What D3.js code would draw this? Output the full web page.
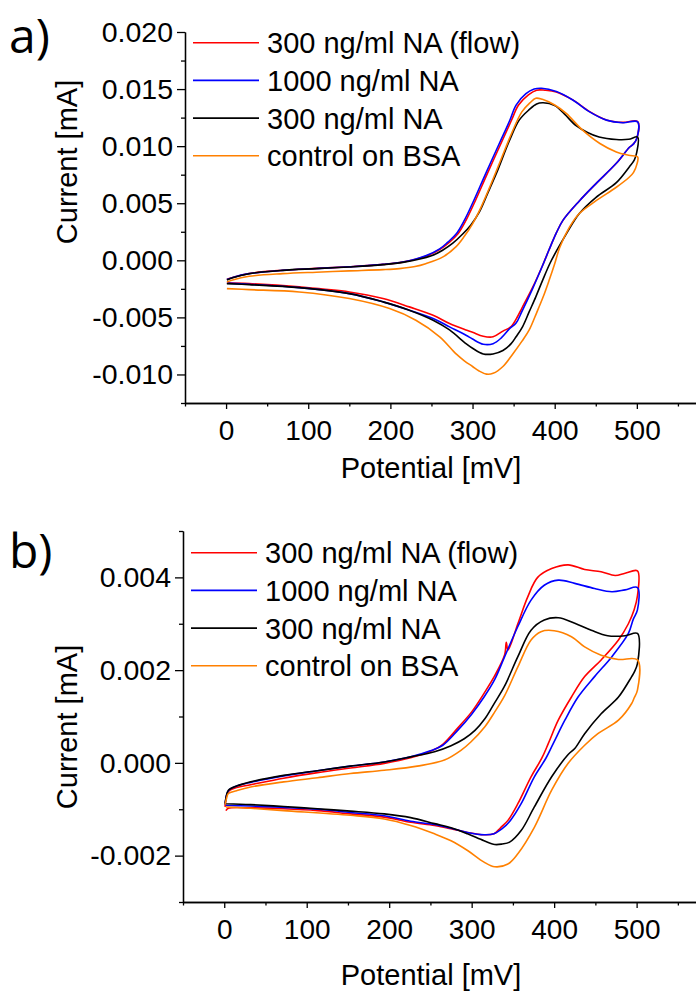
<!DOCTYPE html>
<html>
<head>
<meta charset="utf-8">
<script src="https://cdn.jsdelivr.net/npm/d3@7"></script>
<style>
  html, body { margin: 0; padding: 0; background: #fff; }
  svg { display: block; }
  text { font-family: "Liberation Sans", Arial, sans-serif; fill: #000; }
  .domain, .tick line { stroke: #000; stroke-width: 1.3px; }
  text.panel-tag { font-family: "Open Sans", sans-serif; }
</style>
</head>
<body>
<svg id="chart" width="696" height="992"></svg>
<script>
// legend / series
const seriesLabels = ['300 ng/ml NA (flow)', '1000 ng/ml NA', '300 ng/ml NA', 'control on BSA'];
const seriesColors = ['#ff0000', '#0000ff', '#000000', '#ff8000'];

// tick values
const xTicks      = [0, 100, 200, 300, 400, 500];
const xMinorTicks = [-50, 50, 150, 250, 350, 450, 550];
const yTicksA      = [-0.010, -0.005, 0.000, 0.005, 0.010, 0.015, 0.020];
const yMinorTicksA = [-0.0125, -0.0075, -0.0025, 0.0025, 0.0075, 0.0125, 0.0175];
const yTicksB      = [-0.002, 0.000, 0.002, 0.004];
const yMinorTicksB = [-0.003, -0.001, 0.001, 0.003, 0.005];

// panel a : [potential mV, current mA], forward scan then reverse scan
const aRed = [
  [1,-0.00165],[8,-0.0015],[28,-0.00115],[69,-0.00087],[110,-0.00071],[150,-0.00056],[191,-0.00036],
  [215,-0.00016],[243,0.00035],[260,0.00095],[272,0.0016],[282,0.0023],[292,0.0035],[302,0.005],
  [318,0.0076],[335,0.0103],[347,0.0122],[356,0.0136],[368,0.0145],[378,0.0149],[388,0.0149],
  [402,0.01475],[422,0.01405],[442,0.01305],[463,0.0123],[483,0.01208],[501,0.01215],
  [500,0.0107],[496,0.0102],[491,0.0099],[475,0.0085],[450,0.0067],[430,0.0052],[410,0.0035],[402,0.0024],
  [393,0.0009],[385,-0.0005],[373,-0.0024],[360,-0.0042],[355,-0.0049],[347,-0.0058],[337,-0.0062],
  [325,-0.0067],[313,-0.00665],[300,-0.0063],[292,-0.0061],[272,-0.00554],[252,-0.00481],
  [223,-0.00408],[191,-0.00335],[150,-0.00277],[89,-0.00233],[28,-0.00204],[1,-0.00198]
];
const aBlue = [
  [1,-0.00168],[8,-0.0015],[28,-0.00117],[69,-0.00088],[110,-0.00072],[150,-0.00057],[191,-0.00036],
  [215,-0.00015],[243,0.0004],[260,0.001],[270,0.0016],[280,0.0023],[290,0.0035],[300,0.005],
  [316,0.0076],[333,0.0103],[345,0.0122],[353,0.0136],[365,0.0146],[375,0.0150],[384,0.01507],
  [402,0.01478],[422,0.01404],[442,0.01302],[463,0.01228],[483,0.01205],[501,0.01213],
  [500,0.0107],[496,0.0102],[491,0.0099],[475,0.0085],[450,0.0067],[430,0.0052],[410,0.0035],[402,0.0024],
  [393,0.0009],[385,-0.0005],[373,-0.0025],[360,-0.0045],[353,-0.0055],[345,-0.0060],[335,-0.0068],
  [325,-0.0073],[313,-0.00735],[300,-0.0069],[292,-0.00656],[272,-0.00583],[252,-0.0051],
  [223,-0.00437],[191,-0.00364],[150,-0.00292],[89,-0.00239],[28,-0.0021],[1,-0.002]
];
const aBlack = [
  [1,-0.00172],[8,-0.00152],[28,-0.00117],[69,-0.00088],[110,-0.00073],[150,-0.00058],[191,-0.00038],
  [215,-0.00018],[250,0.0004],[264,0.0009],[276,0.0015],[288,0.0023],[298,0.0031],[308,0.0042],
  [318,0.0058],[329,0.0076],[345,0.0105],[357,0.0123],[369,0.0132],[378,0.0137],[386,0.0138],[400,0.01355],
  [412,0.0128],[426,0.0118],[440,0.0112],[454,0.0108],[475,0.01058],[490,0.0106],[501,0.0108],
  [500,0.0095],[497,0.0088],[491,0.0082],[475,0.0068],[450,0.0055],[430,0.0041],[414,0.0023],
  [402,0.0008],[394,-0.0003],[385,-0.0018],[377,-0.0032],[369,-0.0045],[361,-0.0058],[353,-0.0067],
  [347,-0.0073],[337,-0.0079],[325,-0.0082],[313,-0.0082],[300,-0.0077],[292,-0.0073],[272,-0.0061],
  [252,-0.00525],[223,-0.00437],[191,-0.00364],[150,-0.00292],[89,-0.00239],[28,-0.00213],[1,-0.00204]
];
const aOrange = [
  [1,-0.0019],[8,-0.00172],[28,-0.0014],[69,-0.00117],[110,-0.00104],[150,-0.00093],[191,-0.00082],
  [211,-0.00073],[230,-0.00055],[243,-0.0003],[264,0.0003],[280,0.0012],[290,0.0021],[300,0.0032],
  [310,0.0046],[322,0.0066],[335,0.0089],[348,0.0112],[360,0.0130],[370,0.0138],[377,0.0142],
  [385,0.0141],[400,0.0136],[414,0.01287],[434,0.0114],[455,0.01023],[475,0.00949],[490,0.0092],
  [501,0.00905],[500,0.0084],[496,0.0077],[491,0.0073],[475,0.0064],[450,0.0052],[430,0.0041],[418,0.0029],
  [406,0.0011],[400,-0.0003],[393,-0.0018],[386,-0.0032],[378,-0.0046],[369,-0.0061],[360,-0.0071],
  [349,-0.0082],[337,-0.0093],[325,-0.0099],[317,-0.00997],[308,-0.0097],[300,-0.0093],[290,-0.0088],
  [280,-0.0082],[260,-0.0067],[231,-0.00525],[199,-0.00423],[150,-0.00335],[89,-0.00277],
  [28,-0.00257],[1,-0.00248]
];

// panel b
const bRed = [
  [1,-0.00095],[3,-0.0007],[6,-0.0006],[15,-0.00053],[32,-0.00047],[72,-0.00033],[113,-0.00021],
  [153,-0.00011],[194,-0.00001],[226,0.00011],[250,0.00025],[265,0.0004],[283,0.00075],[300,0.0011],
  [315,0.0015],[328,0.00188],[340,0.00233],[342,0.0026],[344,0.00243],[356,0.003],[368,0.00358],
  [380,0.004],[397,0.00419],[417,0.00427],[437,0.00417],[457,0.00412],[474,0.00404],[486,0.00409],[501,0.00414],
  [501,0.0036],[497,0.0033],[490,0.003],[478,0.00265],[457,0.00222],[437,0.00186],[421,0.00142],[405,0.00092],
  [393,0.00042],[385,0.0001],[372,-0.0003],[356,-0.00088],[344,-0.00124],[335,-0.0014],[327,-0.00153],
  [315,-0.00155],[295,-0.0015],[275,-0.00142],[255,-0.00135],[226,-0.00128],[194,-0.00117],
  [153,-0.0011],[113,-0.00103],[72,-0.00099],[32,-0.00097],[5,-0.00098],[2,-0.00103]
];
const bBlue = [
  [1,-0.0009],[3,-0.00068],[6,-0.00058],[15,-0.0005],[32,-0.00042],[72,-0.00028],[113,-0.00017],
  [153,-0.00007],[194,0.00002],[226,0.00013],[250,0.00026],[265,0.00038],[283,0.0007],[300,0.00105],
  [315,0.00142],[328,0.0018],[340,0.00229],[356,0.00294],[372,0.00351],[388,0.00383],[405,0.00394],
  [425,0.00387],[449,0.00376],[470,0.00369],[486,0.00373],[501,0.00378],
  [501,0.0033],[496,0.0031],[490,0.00279],[470,0.00229],[449,0.00186],[429,0.00142],[413,0.00092],[399,0.00042],
  [390,0.0001],[376,-0.0003],[360,-0.00088],[347,-0.00124],[337,-0.00142],[327,-0.00153],
  [315,-0.00155],[295,-0.0015],[275,-0.00141],[255,-0.00133],[226,-0.00126],[194,-0.00114],
  [153,-0.00107],[113,-0.001],[72,-0.00096],[32,-0.00093],[2,-0.00092]
];
const bBlack = [
  [1,-0.00088],[3,-0.00068],[5,-0.00059],[15,-0.0005],[32,-0.00041],[72,-0.00027],[113,-0.00017],
  [153,-0.00007],[194,0.00002],[226,0.00013],[255,0.00024],[275,0.00037],[291,0.00052],[304,0.0007],
  [316,0.00095],[328,0.0013],[340,0.00166],[356,0.00229],[372,0.00286],[388,0.00308],[405,0.00313],
  [425,0.00301],[445,0.00286],[465,0.00274],[486,0.00274],[501,0.00279],
  [501,0.00214],[497,0.00195],[494,0.00186],[478,0.00142],[457,0.00106],[437,0.00063],[425,0.00031],[417,0.00018],
  [397,-0.0003],[376,-0.00095],[360,-0.00146],[346,-0.00171],[337,-0.00175],[328,-0.00176],
  [315,-0.00168],[295,-0.00153],[275,-0.0014],[255,-0.00131],[226,-0.00118],[194,-0.0011],
  [153,-0.00104],[113,-0.00099],[72,-0.00094],[32,-0.0009],[2,-0.00088]
];
const bOrange = [
  [1,-0.0009],[3,-0.00075],[5,-0.00066],[15,-0.0006],[32,-0.00052],[72,-0.00041],[113,-0.00032],
  [153,-0.00023],[194,-0.00016],[234,-0.00007],[267,0.00006],[287,0.00027],[299,0.00045],[316,0.00078],
  [328,0.0011],[340,0.00145],[356,0.00207],[372,0.00265],[384,0.00283],[400,0.00285],[421,0.00272],[437,0.0025],
  [457,0.00232],[478,0.00223],[501,0.00222],
  [501,0.00157],[497,0.0014],[494,0.00128],[478,0.00092],[453,0.00063],[437,0.00038],[417,-0.00001],[397,-0.00059],
  [376,-0.00139],[356,-0.00196],[344,-0.00218],[328,-0.00224],[315,-0.00214],[295,-0.00189],
  [275,-0.00168],[255,-0.00153],[226,-0.00135],[194,-0.00121],[153,-0.00113],[72,-0.00103],
  [32,-0.00098],[2,-0.00095]
];

const svg = d3.select('#chart');
const fmt = d3.formatLocale({ decimal: '.', thousands: ',', grouping: [3], currency: ['', ''], minus: '-' }).format('.3f');

function drawPanel(cfg) {
  const g = svg.append('g');
  const x = d3.scaleLinear().domain([-50, 572]).range([cfg.left, 696]);
  const y = d3.scaleLinear().domain(cfg.yDomain).range([cfg.bottom, cfg.top]);

  // curves
  const line = d3.line()
    .x(d => x(d[0]))
    .y(d => y(d[1]))
    .curve(d3.curveCatmullRom.alpha(0.5));

  cfg.series.forEach((s, i) => {
    g.append('path')
      .attr('d', line(s))
      .attr('fill', 'none')
      .attr('stroke', seriesColors[i])
      .attr('stroke-width', 1.6)
      .attr('stroke-linejoin', 'round');
  });

  // x axis
  g.append('g')
    .attr('transform', `translate(0,${cfg.bottom})`)
    .call(d3.axisBottom(x).tickValues(xMinorTicks).tickSize(3.5).tickSizeOuter(0).tickFormat(''));
  g.append('g')
    .attr('transform', `translate(0,${cfg.bottom})`)
    .call(d3.axisBottom(x).tickValues(xTicks).tickSize(6).tickSizeOuter(0).tickPadding(11))
    .call(a => a.selectAll('text').attr('font-size', 28));

  // y axis
  g.append('g')
    .attr('transform', `translate(${cfg.left},0)`)
    .call(d3.axisLeft(y).tickValues(cfg.yMinor).tickSize(4).tickSizeOuter(0).tickFormat(''));
  g.append('g')
    .attr('transform', `translate(${cfg.left},0)`)
    .call(d3.axisLeft(y).tickValues(cfg.yTicks).tickSize(8).tickSizeOuter(0).tickPadding(4).tickFormat(fmt))
    .call(a => a.selectAll('text').attr('font-size', 28.5));

  // axis titles
  g.append('text')
    .attr('x', 431)
    .attr('y', cfg.xTitleY)
    .attr('text-anchor', 'middle')
    .attr('font-size', 29)
    .text('Potential [mV]');

  g.append('text')
    .attr('transform', `translate(77,${cfg.yTitleMid}) rotate(-90)`)
    .attr('text-anchor', 'middle')
    .attr('font-size', 29)
    .text('Current [mA]');

  // panel tag
  g.append('text')
    .attr('class', 'panel-tag')
    .attr('x', 9)
    .attr('y', cfg.tagY)
    .attr('font-size', 48)
    .text(cfg.tag);

  // legend
  seriesLabels.forEach((label, i) => {
    const ly = cfg.legendTop + i * 37.7;
    g.append('line')
      .attr('x1', cfg.left + 8).attr('x2', cfg.left + 74)
      .attr('y1', ly).attr('y2', ly)
      .attr('stroke', seriesColors[i])
      .attr('stroke-width', 1.6);
    g.append('text')
      .attr('x', cfg.left + 82)
      .attr('y', ly)
      .attr('dy', '0.36em')
      .attr('font-size', 29)
      .text(label);
  });
}

drawPanel({
  tag: 'a)', tagY: 53,
  left: 185, top: 32, bottom: 403,
  yDomain: [-0.0125, 0.020], yTicks: yTicksA, yMinor: yMinorTicksA,
  series: [aRed, aBlue, aBlack, aOrange],
  xTitleY: 478, yTitleMid: 162, legendTop: 42.7
});

drawPanel({
  tag: 'b)', tagY: 568,
  left: 183, top: 531, bottom: 902,
  yDomain: [-0.003, 0.005], yTicks: yTicksB, yMinor: yMinorTicksB,
  series: [bRed, bBlue, bBlack, bOrange],
  xTitleY: 985, yTitleMid: 727, legendTop: 552.7
});
</script>
</body>
</html>
